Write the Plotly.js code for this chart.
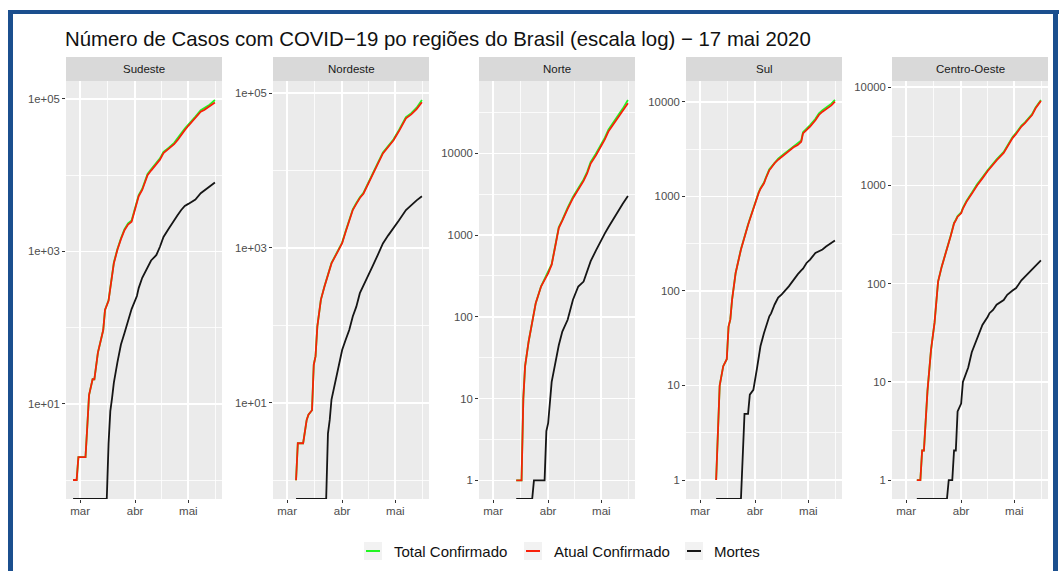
<!DOCTYPE html>
<html>
<head>
<meta charset="utf-8">
<script src="https://cdn.plot.ly/plotly-3.0.1.min.js"></script>
<style>
  html, body { margin: 0; padding: 0; background: #ffffff; }
  #chart { width: 1059px; height: 571px; }
</style>
</head>
<body>
<div id="chart"></div>
<script>
// ---- Casos e mortes acumulados por região (até 16/05/2020) ----
const regionNames = ['Sudeste', 'Nordeste', 'Norte', 'Sul', 'Centro-Oeste'];
const seriesNames = ['Total Confirmado', 'Atual Confirmado', 'Mortes'];

const sudesteDates = ['2020-02-26','2020-02-28','2020-02-29','2020-03-04','2020-03-05','2020-03-06','2020-03-08','2020-03-09','2020-03-11','2020-03-13','2020-03-14','2020-03-15','2020-03-16','2020-03-17','2020-03-18','2020-03-19','2020-03-20','2020-03-22','2020-03-23','2020-03-24','2020-03-26','2020-03-28','2020-03-30','2020-04-02','2020-04-03','2020-04-05','2020-04-08','2020-04-10','2020-04-12','2020-04-13','2020-04-15','2020-04-17','2020-04-20','2020-04-23','2020-04-25','2020-04-27','2020-04-29','2020-05-01','2020-05-03','2020-05-05','2020-05-08','2020-05-10','2020-05-13','2020-05-16'];
const sudesteAtual  = [1,1,2,2,5,13,21,21,47,77,93,170,200,225,330,520,700,1050,1250,1450,1900,2250,2450,4500,5300,6400,10000,11500,13000,13700,16000,19500,22000,25500,29000,34000,39000,44500,50000,56000,68000,72000,80000,90000];
const sudesteTotal  = [1,1,2,2,5,13,21,21,47,77,93,170,200,228,335,530,715,1075,1280,1490,1960,2330,2540,4660,5500,6650,10400,11950,13500,14250,16650,20300,22900,26600,30300,35500,40800,46600,52400,58700,71300,75600,84200,97000];
const sudesteMortes = [0,0,0,0,0,0,0,0,0,0,0,0,0,3,8,12,19,35,47,60,85,120,175,260,330,450,620,760,850,900,1150,1550,2000,2600,3000,3500,3950,4200,4450,4800,5800,6300,7000,8000];

const nordesteDates = ['2020-03-06','2020-03-07','2020-03-10','2020-03-12','2020-03-13','2020-03-15','2020-03-16','2020-03-17','2020-03-18','2020-03-20','2020-03-22','2020-03-23','2020-03-24','2020-03-25','2020-03-26','2020-03-29','2020-03-31','2020-04-01','2020-04-03','2020-04-05','2020-04-07','2020-04-09','2020-04-11','2020-04-13','2020-04-15','2020-04-18','2020-04-21','2020-04-24','2020-04-27','2020-04-30','2020-05-03','2020-05-07','2020-05-10','2020-05-13','2020-05-16'];
const nordesteAtual  = [1,3,3,6,7,8,31,40,96,213,315,380,450,530,630,850,1030,1150,1620,2200,3080,3700,4400,5000,6300,8700,12000,16600,20500,24500,32000,47000,53000,62000,76000];
const nordesteTotal  = [1,3,3,6,7,8,31,40,96,213,318,385,455,537,640,865,1050,1170,1655,2250,3150,3790,4510,5130,6470,8950,12350,17100,21150,25300,33100,48700,55000,64500,81000];
const nordesteMortes = [0,0,0,0,0,0,0,0,0,0,0,0,4,6,11,24,40,48,65,87,130,174,260,330,410,570,800,1140,1450,1780,2250,3080,3600,4100,4650];

const norteDates = ['2020-03-14','2020-03-17','2020-03-18','2020-03-19','2020-03-21','2020-03-23','2020-03-24','2020-03-25','2020-03-28','2020-03-30','2020-03-31','2020-04-01','2020-04-03','2020-04-05','2020-04-07','2020-04-09','2020-04-10','2020-04-12','2020-04-15','2020-04-18','2020-04-21','2020-04-23','2020-04-25','2020-04-28','2020-04-30','2020-05-03','2020-05-05','2020-05-08','2020-05-10','2020-05-13','2020-05-16'];
const norteAtual  = [1,1,10,25,50,85,111,147,235,290,310,340,435,725,1220,1500,1700,2100,2830,3600,4600,5700,7500,9500,11300,14800,18500,23000,27000,33000,41000];
const norteTotal  = [1,1,10,25,50,85,111,147,237,293,314,345,442,740,1250,1540,1750,2170,2930,3740,4790,5950,7850,9960,11850,15550,19450,24200,28500,35000,45000];
const norteMortes = [0,0,0,0,0,0,1,1,1,1,4,5,16,27,45,66,75,92,162,235,270,360,480,650,800,1050,1250,1600,1950,2400,3000];

const sulDates = ['2020-03-10','2020-03-12','2020-03-14','2020-03-16','2020-03-17','2020-03-18','2020-03-19','2020-03-21','2020-03-24','2020-03-26','2020-03-28','2020-03-29','2020-03-31','2020-04-02','2020-04-03','2020-04-04','2020-04-06','2020-04-07','2020-04-09','2020-04-10','2020-04-12','2020-04-14','2020-04-16','2020-04-20','2020-04-23','2020-04-25','2020-04-27','2020-04-28','2020-04-30','2020-05-02','2020-05-05','2020-05-07','2020-05-09','2020-05-11','2020-05-14','2020-05-16'];
const sulAtual  = [1,10,16,19,42,50,81,155,275,380,500,570,750,950,1090,1200,1380,1550,1900,2000,2250,2450,2640,3000,3350,3500,3800,4650,5000,5500,6400,7300,7900,8400,9200,10100];
const sulTotal  = [1,10,16,19,42,50,81,155,277,384,506,578,762,966,1108,1222,1406,1580,1940,2045,2300,2510,2710,3085,3450,3605,3920,4800,5170,5690,6630,7570,8200,8730,9600,10550];
const sulMortes = [0,0,0,0,0,0,0,0,0,5,5,8,9,15,20,26,36,42,54,58,72,85,92,112,135,150,165,172,198,215,253,265,275,295,320,343];

const centroOesteDates = ['2020-03-07','2020-03-09','2020-03-10','2020-03-11','2020-03-13','2020-03-15','2020-03-17','2020-03-18','2020-03-19','2020-03-21','2020-03-24','2020-03-25','2020-03-26','2020-03-27','2020-03-28','2020-03-29','2020-03-30','2020-04-01','2020-04-02','2020-04-04','2020-04-05','2020-04-07','2020-04-10','2020-04-11','2020-04-13','2020-04-16','2020-04-17','2020-04-19','2020-04-21','2020-04-25','2020-04-27','2020-04-30','2020-05-02','2020-05-05','2020-05-07','2020-05-11','2020-05-13','2020-05-16'];
const centroOesteAtual  = [1,1,2,2,8,21,40,60,105,148,220,260,300,350,410,440,480,520,580,680,720,820,1000,1050,1180,1400,1480,1620,1800,2140,2450,3030,3350,3970,4300,5200,6100,7250];
const centroOesteTotal  = [1,1,2,2,8,21,40,60,105,148,222,263,304,355,416,447,488,530,592,695,737,840,1025,1077,1210,1436,1518,1662,1847,2195,2510,3100,3425,4055,4390,5310,6230,7400];
const centroOesteMortes = [0,0,0,0,0,0,0,0,0,0,0,1,1,1,2,2,5,6,10,13,14,20,27,30,38,46,50,54,61,68,77,85,90,108,118,138,150,172];

// eixo x: meses
const monthTickVals  = ['2020-03-01', '2020-04-01', '2020-05-01'];
const monthTickText  = ['mar', 'abr', 'mai'];
const monthMinorVals = ['2020-03-16 12:00', '2020-04-16', '2020-05-16 12:00'];

// eixo y (log) de cada painel
const sciTickVals = [10, 1000, 100000];
const sciTickText = ['1e+01', '1e+03', '1e+05'];
const sciMinorVals = [1, 100, 10000];
const decTickVals = [1, 10, 100, 1000, 10000];
const decTickText = ['1', '10', '100', '1000', '10000'];
const decMinorVals = [3.162, 31.62, 316.2, 3162, 31623];

// ---------------------------------------------------------------
const W = 1059, H = 571;
const FONT = '"Liberation Sans", Arial, Helvetica, sans-serif';
const COLORS = ['#22F522', '#F8200A', '#151515'];

const regionData = [
  { dates: sudesteDates,     series: [sudesteTotal, sudesteAtual, sudesteMortes] },
  { dates: nordesteDates,    series: [nordesteTotal, nordesteAtual, nordesteMortes] },
  { dates: norteDates,       series: [norteTotal, norteAtual, norteMortes] },
  { dates: sulDates,         series: [sulTotal, sulAtual, sulMortes] },
  { dates: centroOesteDates, series: [centroOesteTotal, centroOesteAtual, centroOesteMortes] }
];

// panel geometry (pixels)
const panelLeft = [66, 273, 479, 686, 892];
const panelWidth = 156;
const panelTop = 81, panelBottom = 499, stripTop = 57;

// log10 ranges of each panel (ggplot-like 5% expansion)
const yRanges = [[-0.249, 5.236], [-0.243, 5.155], [-0.228, 4.885], [-0.201, 4.222], [-0.193, 4.063]];
const yTickSets = [
  [sciTickVals, sciTickText, sciMinorVals],
  [sciTickVals, sciTickText, sciMinorVals],
  [decTickVals, decTickText, decMinorVals],
  [decTickVals, decTickText, decMinorVals],
  [decTickVals, decTickText, decMinorVals]
];

const px = x => x / W;
const py = y => 1 - y / H;

const traces = [];
const layout = {
  width: W, height: H,
  margin: { l: 0, r: 0, t: 0, b: 0 },
  paper_bgcolor: '#ffffff',
  plot_bgcolor: '#EBEBEB',
  showlegend: false,
  font: { family: FONT, color: '#4D4D4D' },
  title: {
    text: 'Número de Casos com COVID\u221219 po regiões do Brasil (escala log) \u2212 17 mai 2020',
    x: px(65), xref: 'paper', xanchor: 'left',
    y: py(39), yref: 'paper', yanchor: 'middle',
    font: { family: FONT, size: 20.4, color: '#111111' }
  },
  shapes: [],
  annotations: []
};

regionData.forEach((reg, i) => {
  const sfx = i === 0 ? '' : String(i + 1);
  const floorVal = Math.pow(10, yRanges[i][0]);
  reg.series.forEach((vals, s) => {
    traces.push({
      type: 'scatter', mode: 'lines',
      x: reg.dates,
      // zero deaths sit on the panel floor, as -Inf does on a log scale
      y: vals.map(v => (v > 0 ? v : floorVal)),
      name: seriesNames[s],
      line: { color: COLORS[s], width: 1.8 },
      xaxis: 'x' + sfx, yaxis: 'y' + sfx,
      hoverinfo: 'skip'
    });
  });

  const left = panelLeft[i];
  layout['xaxis' + sfx] = {
    domain: [px(left), px(left + panelWidth)],
    anchor: 'y' + sfx,
    type: 'date',
    range: ['2020-02-22', '2020-05-20'],
    tickmode: 'array', tickvals: monthTickVals, ticktext: monthTickText,
    ticks: 'outside', ticklen: 3, tickwidth: 1, tickcolor: '#333333',
    ticklabelstandoff: -2,
    tickfont: { family: FONT, size: 11.5, color: '#4D4D4D' },
    showgrid: true, gridcolor: '#FFFFFF', gridwidth: 1.7,
    minor: { tickmode: 'array', tickvals: monthMinorVals, showgrid: true, gridcolor: '#FFFFFF', gridwidth: 0.8, ticks: '' },
    zeroline: false, showline: false, fixedrange: true
  };
  const [tv, tt, mv] = yTickSets[i];
  layout['yaxis' + sfx] = {
    domain: [py(panelBottom), py(panelTop)],
    anchor: 'x' + sfx,
    type: 'log',
    range: yRanges[i],
    tickmode: 'array', tickvals: tv, ticktext: tt,
    ticks: 'outside', ticklen: 3, tickwidth: 1, tickcolor: '#333333',
    tickfont: { family: FONT, size: 11.3, color: '#4D4D4D' },
    showgrid: true, gridcolor: '#FFFFFF', gridwidth: 1.7,
    minor: { tickmode: 'array', tickvals: mv, showgrid: true, gridcolor: '#FFFFFF', gridwidth: 0.8, ticks: '' },
    zeroline: false, showline: false, fixedrange: true
  };

  // facet strip
  layout.shapes.push({
    type: 'rect', xref: 'paper', yref: 'paper', layer: 'below',
    x0: px(left), x1: px(left + panelWidth), y0: py(panelTop), y1: py(stripTop),
    fillcolor: '#D9D9D9', line: { width: 0 }
  });
  layout.annotations.push({
    xref: 'paper', yref: 'paper', showarrow: false,
    x: px(left + panelWidth / 2), y: py((stripTop + panelTop) / 2),
    xanchor: 'center', yanchor: 'middle',
    text: regionNames[i],
    font: { family: FONT, size: 11.5, color: '#1A1A1A' }
  });
});

// legend (ggplot-style keys)
const legendKeyX = [364, 524, 685];
const legendTextX = [392, 552, 712];
const legendY = 551, keySize = 18;
seriesNames.forEach((name, s) => {
  const kx = legendKeyX[s];
  layout.shapes.push({
    type: 'rect', xref: 'paper', yref: 'paper',
    x0: px(kx), x1: px(kx + keySize), y0: py(legendY + keySize / 2), y1: py(legendY - keySize / 2),
    fillcolor: '#F2F2F2', line: { width: 0 }
  });
  layout.shapes.push({
    type: 'line', xref: 'paper', yref: 'paper',
    x0: px(kx + 2), x1: px(kx + keySize - 2), y0: py(legendY), y1: py(legendY),
    line: { color: COLORS[s], width: 2 }
  });
  layout.annotations.push({
    xref: 'paper', yref: 'paper', showarrow: false,
    x: px(legendTextX[s]), y: py(legendY), xanchor: 'left', yanchor: 'middle',
    text: name, font: { family: FONT, size: 15, color: '#111111' }
  });
});

// blue frame around the figure
const FRAME = '#1B4F8E';
layout.shapes.push(
  { type: 'rect', xref: 'paper', yref: 'paper', x0: px(8), x1: px(13), y0: 0, y1: py(10), fillcolor: FRAME, line: { width: 0 } },
  { type: 'rect', xref: 'paper', yref: 'paper', x0: px(8), x1: px(1059), y0: py(14), y1: py(10), fillcolor: FRAME, line: { width: 0 } },
  { type: 'rect', xref: 'paper', yref: 'paper', x0: px(1053), x1: px(1058), y0: 0, y1: py(10), fillcolor: FRAME, line: { width: 0 } }
);

Plotly.newPlot('chart', traces, layout, { displayModeBar: false, staticPlot: true });
</script>
</body>
</html>
